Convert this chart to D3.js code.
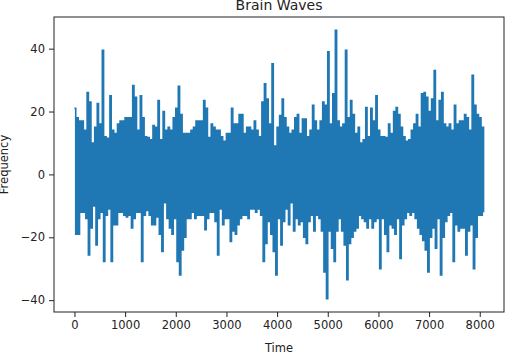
<!DOCTYPE html>
<html>
<head>
<meta charset="utf-8">
<script src="https://cdn.jsdelivr.net/npm/d3@7"></script>
<style>
    body { margin: 0; background: white; }
    #chart { width: 513px; height: 359px; }
</style>
</head>
<body>
<div id="chart"></div>
<script>

// one reading every 50 time steps: the top of the trace, then the bottom of the trace
let sampleStep = 50;

let highs = [21, 18, 17, 17, 14, 26, 23, 10, 15, 22.5, 16, 39.5, 12, 11.5, 25, 14, 13, 16, 17, 17, 18, 18,
    18, 28.3, 24.5, 14, 25, 18, 12, 11.7, 11, 15.5, 15, 23.5, 11, 20, 14, 15, 14, 18, 21, 28, 19, 13, 13, 13,
    14, 15, 17, 17, 17, 23.5, 21, 11.7, 16, 15, 14, 14, 12, 10.5, 13, 13, 21, 16, 16, 19, 19, 13, 15,
    15, 14, 17, 14, 12, 23, 28.8, 24, 16, 35.2, 9, 15, 18.7, 24, 18, 15, 13, 14, 18, 19, 13, 17.6, 17.6, 12,
    14, 22, 17, 14, 17, 23, 22, 39, 16, 25.6, 45.8, 17, 15, 16, 39.5, 18, 23.5, 19, 13, 15, 10, 11, 21.3, 12,
    21, 17, 25, 14, 12, 12, 11.7, 16, 13, 20, 21.3, 19, 15, 12, 10.5, 11, 14, 16, 19, 15, 25.6, 26, 24.5, 20,
    24, 33, 17, 23.5, 26, 16, 15, 16, 14, 22, 16, 17, 17, 19, 18, 14, 31.5, 22, 19, 18, 15];

let lows = [-19, -19, -12, -12, -14, -25.6, -17, -10, -22.4, -14, -12, -27.7, -13, -11, -27.7, -16, -16, -12, -12, -13, -13.5, -13,
    -17, -14, -12, -12, -27.7, -13, -11.5, -13, -16, -16, -13.5, -19, -24.5, -9, -14, -17, -19, -14, -27.7, -32, -24, -20, -14, -14,
    -12, -14, -13, -13, -13, -17.6, -14, -12, -12, -15, -25.6, -11, -16, -14, -14, -21.3, -18, -19, -16, -14, -13, -13, -14,
    -11, -11, -12, -11, -13, -27.7, -22, -15, -19, -24.5, -32, -14, -22.4, -15, -11, -16, -9, -18, -14, -16, -15, -20, -22, -15,
    -13, -18, -13, -14, -18, -31, -39.5, -18, -23.5, -27.7, -18, -14, -18, -22.4, -33.5, -22, -20, -18, -17, -13, -14, -15, -17, -14,
    -17, -15, -14, -30, -14, -19, -24.5, -16, -17, -19, -14, -26.7, -16, -14, -12, -13, -12, -14, -17, -19, -21, -24, -31, -20,
    -17, -23.5, -14, -32, -20, -15, -13, -12, -27.7, -16, -18, -17, -17, -25.6, -18, -16, -30, -20, -13, -13, -12];

let xTicks = [0, 1000, 2000, 3000, 4000, 5000, 6000, 7000, 8000];
let yTicks = [-40, -20, 0, 20, 40];

// build the trace: top then bottom inside each step
let wave = [];
highs.forEach((h, i) => {
    wave.push({time: i * sampleStep, value: h});
    wave.push({time: i * sampleStep + sampleStep / 2, value: lows[i]});
});

let margin = {top: 17, right: 9, bottom: 47, left: 54};
let width = 513 - margin.left - margin.right;
let height = 359 - margin.top - margin.bottom;

let svg = d3.select("#chart").append("svg")
    .attr("width", 513)
    .attr("height", 359)
    .style("font-family", "DejaVu Sans, sans-serif");

let g = svg.append("g")
    .attr("transform", `translate(${margin.left}, ${margin.top})`);

// matplotlib style 5% padding around the data
let xExt = d3.extent(wave, d => d.time);
let yExt = d3.extent(wave, d => d.value);
let xPad = (xExt[1] - xExt[0]) * 0.05;
let yPad = (yExt[1] - yExt[0]) * 0.05;

let x = d3.scaleLinear()
    .domain([xExt[0] - xPad, xExt[1] + xPad])
    .range([0, width]);

let y = d3.scaleLinear()
    .domain([yExt[0] - yPad, yExt[1] + yPad])
    .range([height, 0]);

// the signal (stepped so the dense trace fills in like the original)
let line = d3.line()
    .curve(d3.curveStepAfter)
    .x(d => x(d.time))
    .y(d => y(d.value));

g.append("path")
    .datum(wave)
    .attr("fill", "none")
    .attr("stroke", "#1f77b4")
    .attr("stroke-width", 1.6)
    .attr("d", line);

// axes
let minus = d => d3.format("d")(d).replace("-", "\u2212");

let xAxis = g.append("g")
    .attr("transform", `translate(0, ${height})`)
    .call(d3.axisBottom(x).tickValues(xTicks).tickSize(5).tickPadding(4).tickSizeOuter(0).tickFormat(minus));

let yAxis = g.append("g")
    .call(d3.axisLeft(y).tickValues(yTicks).tickSize(5).tickPadding(4).tickSizeOuter(0).tickFormat(minus));

[xAxis, yAxis].forEach(a => {
    a.select(".domain").remove();
    a.selectAll(".tick line").attr("stroke", "#222").attr("stroke-width", 1);
    a.selectAll(".tick text")
        .attr("fill", "#222")
        .style("font-size", "11.5px")
        .style("font-family", "DejaVu Sans, sans-serif");
});

// frame
g.append("rect")
    .attr("width", width)
    .attr("height", height)
    .attr("fill", "none")
    .attr("stroke", "#222")
    .attr("stroke-width", 1);

// title and labels
svg.append("text")
    .attr("x", margin.left + width / 2)
    .attr("y", 10)
    .attr("text-anchor", "middle")
    .attr("fill", "#222")
    .style("font-size", "14px")
    .text("Brain Waves");

svg.append("text")
    .attr("x", margin.left + width / 2)
    .attr("y", 352)
    .attr("text-anchor", "middle")
    .attr("fill", "#222")
    .style("font-size", "11.5px")
    .text("Time");

svg.append("text")
    .attr("transform", `translate(8, ${margin.top + height / 2}) rotate(-90)`)
    .attr("text-anchor", "middle")
    .attr("fill", "#222")
    .style("font-size", "11.5px")
    .text("Frequency");

</script>
</body>
</html>
